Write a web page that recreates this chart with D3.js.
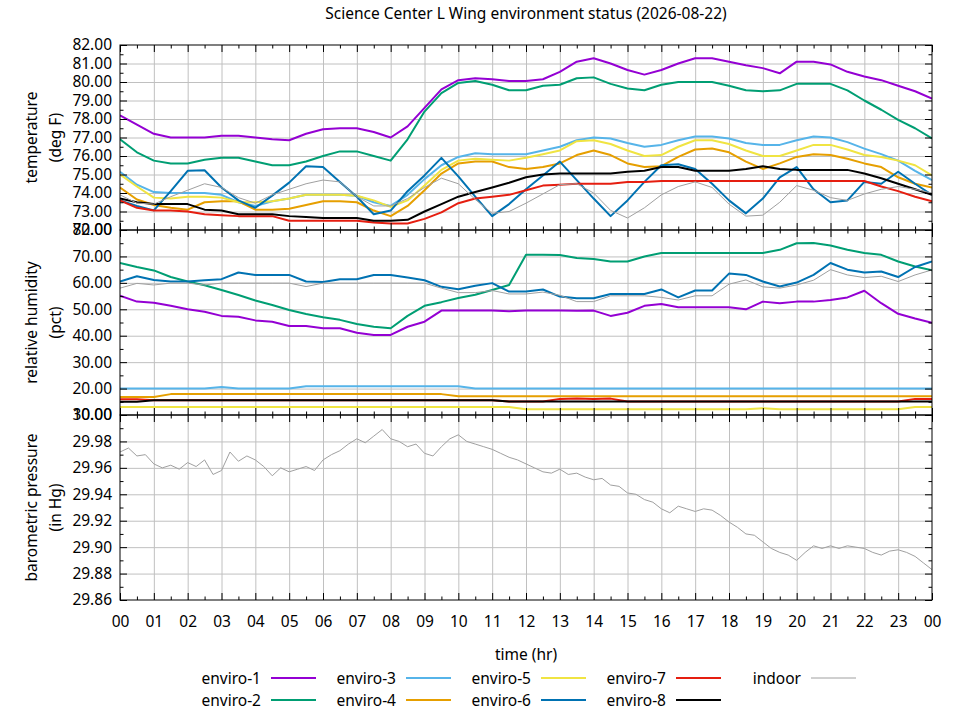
<!DOCTYPE html>
<html>
<head>
<meta charset="utf-8">
<script src="https://cdn.jsdelivr.net/npm/d3@7"></script>
<style>
  body { margin: 0; background: #fff; }
  text { font-family: "Noto Sans", sans-serif; fill: #000; }
</style>
</head>
<body>
<div id="chart"></div>
<script>
// Science Center L Wing environment status
const chartTitle = 'Science Center L Wing environment status (2026-08-22)';

const seriesNames = ['enviro-1', 'enviro-2', 'enviro-3', 'enviro-4', 'enviro-5', 'enviro-6', 'enviro-7', 'enviro-8', 'indoor'];
const seriesColors = ['#9400d3', '#009e73', '#56b4e9', '#e69f00', '#f0e442', '#0072b2', '#e51e10', '#000000', '#a0a0a0'];

const hourTicks = [0, 1, 2, 3, 4, 5, 6, 7, 8, 9, 10, 11, 12, 13, 14, 15, 16, 17, 18, 19, 20, 21, 22, 23, 24];
const hourLabels = ['00', '01', '02', '03', '04', '05', '06', '07', '08', '09', '10', '11', '12',
                    '13', '14', '15', '16', '17', '18', '19', '20', '21', '22', '23', '00'];

const tempTicks = [72, 73, 74, 75, 76, 77, 78, 79, 80, 81, 82];
const humTicks = [10, 20, 30, 40, 50, 60, 70, 80];
const presTicks = [29.86, 29.88, 29.90, 29.92, 29.94, 29.96, 29.98, 30.00];

// temperature (deg F), one reading every half hour from 00 to 24
const temp1 = [78.2, 77.7, 77.2, 77.0, 77.0, 77.0, 77.1, 77.1, 77.0, 76.9, 76.85, 77.2, 77.45, 77.5, 77.5, 77.3, 77.0, 77.6, 78.6, 79.6,
               80.1, 80.2, 80.15, 80.05, 80.05, 80.15, 80.55, 81.1, 81.28, 81.0, 80.65, 80.4, 80.65, 81.0, 81.28, 81.28, 81.1, 80.9, 80.75, 80.47,
               81.1, 81.1, 80.95, 80.55, 80.3, 80.1, 79.8, 79.5, 79.1];
const temp2 = [76.9, 76.2, 75.75, 75.6, 75.6, 75.8, 75.9, 75.9, 75.7, 75.5, 75.5, 75.7, 76.0, 76.25, 76.25, 76.0, 75.75, 76.9, 78.4, 79.4,
               79.95, 80.05, 79.85, 79.55, 79.55, 79.8, 79.85, 80.2, 80.25, 79.9, 79.65, 79.55, 79.85, 80.0, 80.0, 80.0, 79.8, 79.55, 79.5, 79.55,
               79.9, 79.9, 79.9, 79.55, 79.0, 78.5, 77.95, 77.5, 76.95];
const temp3 = [75.15, 74.45, 74.05, 74.0, 74.0, 74.0, 73.9, 73.5, 73.3, 73.55, 73.7, 73.9, 73.9, 73.9, 73.85, 73.5, 73.3, 73.9, 74.75, 75.5,
               75.95, 76.15, 76.1, 76.1, 76.1, 76.3, 76.5, 76.85, 77.0, 76.95, 76.7, 76.5, 76.6, 76.85, 77.05, 77.05, 76.95, 76.7, 76.6, 76.6,
               76.85, 77.05, 77.0, 76.75, 76.4, 76.1, 75.75, 75.2, 74.7];
const temp4 = [74.3, 73.65, 73.35, 73.2, 73.1, 73.5, 73.55, 73.55, 73.1, 73.1, 73.15, 73.35, 73.55, 73.55, 73.5, 73.05, 72.75, 73.3, 74.15, 75.05,
               75.6, 75.7, 75.7, 75.4, 75.3, 75.4, 75.6, 76.05, 76.3, 76.05, 75.6, 75.4, 75.45, 75.95, 76.35, 76.4, 76.2, 75.7, 75.3, 75.6,
               75.95, 76.1, 76.05, 75.85, 75.6, 75.4, 74.85, 74.5, 74.3];
const temp5 = [75.0, 74.35, 73.75, 73.7, 73.8, 73.8, 73.75, 73.5, 73.5, 73.55, 73.7, 73.9, 73.9, 73.9, 73.85, 73.6, 73.25, 73.6, 74.4, 75.25,
               75.75, 75.85, 75.8, 75.75, 75.9, 76.1, 76.3, 76.8, 76.85, 76.65, 76.3, 76.0, 76.05, 76.5, 76.85, 76.85, 76.65, 76.3, 76.0, 76.0,
               76.3, 76.6, 76.6, 76.35, 76.05, 75.95, 75.75, 75.5, 74.95];
const temp6 = [73.6, 73.3, 73.06, 74.1, 75.2, 75.23, 74.3, 73.6, 73.2, 73.86, 74.56, 75.45, 75.4, 74.6, 73.8, 72.85, 73.05, 74.1, 74.95, 75.9,
               74.9, 73.8, 72.75, 73.4, 74.2, 74.95, 75.7, 74.7, 73.7, 72.75, 73.6, 74.6, 75.5, 75.55, 75.3, 74.5, 73.6, 72.9, 73.7, 74.85,
               75.4, 74.2, 73.5, 73.6, 74.6, 74.5, 75.15, 74.5, 73.9];
const temp7 = [73.6, 73.2, 73.05, 73.05, 73.0, 72.85, 72.8, 72.75, 72.75, 72.75, 72.5, 72.5, 72.5, 72.5, 72.5, 72.4, 72.35, 72.35, 72.6, 72.95,
               73.45, 73.7, 73.8, 73.9, 74.15, 74.4, 74.45, 74.5, 74.5, 74.5, 74.6, 74.6, 74.65, 74.65, 74.65, 74.65, 74.65, 74.65, 74.65, 74.65,
               74.65, 74.65, 74.65, 74.65, 74.65, 74.35, 74.1, 73.8, 73.55];
const temp8 = [73.7, 73.5, 73.4, 73.4, 73.4, 73.1, 73.05, 72.85, 72.85, 72.85, 72.75, 72.7, 72.65, 72.65, 72.65, 72.5, 72.5, 72.55, 73.0, 73.4,
               73.8, 74.05, 74.3, 74.55, 74.85, 75.0, 75.05, 75.05, 75.05, 75.05, 75.15, 75.2, 75.4, 75.4, 75.2, 75.2, 75.2, 75.3, 75.45, 75.3,
               75.25, 75.25, 75.25, 75.25, 75.05, 74.8, 74.5, 74.2, 73.9];
const tempIndoor = [73.9, 73.45, 73.4, 73.8, 74.15, 74.5, 74.3, 73.75, 73.45, 73.9, 74.2, 74.5, 74.7, 74.6, 73.8, 73.3, 73.3, 73.7, 74.3, 74.8,
                    74.5, 73.65, 72.9, 73.0, 73.45, 73.95, 74.45, 74.5, 74.0, 73.06, 72.65, 73.2, 73.9, 74.35, 74.6, 74.3, 73.4, 72.75, 72.8, 73.5,
                    74.4, 74.15, 73.75, 73.6, 73.95, 74.2, 74.35, 74.2, 74.0];

// relative humidity (pct), one reading every half hour
const hum1 = [55.1, 52.9, 52.5, 51.3, 50.0, 49.1, 47.5, 47.2, 45.8, 45.3, 43.7, 43.7, 42.8, 42.8, 41.1, 40.3, 40.3, 43.4, 45.3, 49.5,
              49.5, 49.5, 49.5, 49.3, 49.5, 49.5, 49.5, 49.4, 49.5, 47.5, 48.7, 51.3, 52.0, 50.8, 50.8, 50.8, 50.8, 50.0, 52.9, 52.3,
              52.9, 52.9, 53.5, 54.5, 57.0, 52.3, 48.3, 46.5, 44.9];
const hum2 = [67.5, 66.0, 64.7, 62.2, 60.5, 59.1, 57.3, 55.4, 53.3, 51.6, 49.7, 48.2, 47.0, 46.0, 44.4, 43.4, 42.8, 47.5, 51.3, 52.7,
              54.3, 55.5, 57.3, 59.2, 70.6, 70.6, 70.5, 69.4, 69.0, 68.1, 68.1, 70.0, 71.3, 71.3, 71.3, 71.3, 71.3, 71.3, 71.3, 72.5,
              75.0, 75.1, 74.1, 72.5, 71.3, 70.6, 68.1, 66.2, 64.8];
const hum3 = [20.0, 20.0, 20.0, 20.0, 20.0, 20.0, 20.6, 20.0, 20.0, 20.0, 20.0, 20.9, 20.9, 20.9, 20.9, 20.9, 20.9, 20.9, 20.9, 20.9,
              20.9, 20.0, 20.0, 20.0, 20.0, 20.0, 20.0, 20.0, 20.0, 20.0, 20.0, 20.0, 20.0, 20.0, 20.0, 20.0, 20.0, 20.0, 20.0, 20.0,
              20.0, 20.0, 20.0, 20.0, 20.0, 20.0, 20.0, 20.0, 20.0];
const hum4 = [16.8, 16.8, 16.8, 17.9, 17.9, 17.9, 17.9, 17.9, 17.9, 17.9, 17.9, 17.9, 17.9, 17.9, 17.9, 17.9, 17.9, 17.9, 17.9, 17.9,
              17.1, 17.1, 17.1, 17.1, 17.1, 17.1, 17.1, 17.1, 17.1, 17.1, 17.1, 17.1, 17.1, 17.1, 17.1, 17.1, 17.1, 17.1, 17.1, 17.1,
              17.1, 17.1, 17.1, 17.1, 17.1, 17.1, 17.1, 17.1, 17.1];
const hum5 = [13.0, 13.0, 13.0, 13.0, 13.0, 13.0, 13.0, 13.0, 13.0, 13.0, 13.0, 13.0, 13.0, 13.0, 13.0, 13.0, 13.0, 13.0, 13.0, 13.0,
              13.0, 13.0, 13.0, 13.0, 12.2, 12.2, 12.2, 12.2, 12.2, 12.2, 12.2, 12.2, 12.2, 12.2, 12.2, 12.2, 12.2, 12.2, 12.6, 12.2,
              12.2, 12.2, 12.2, 12.2, 12.2, 12.2, 12.2, 13.0, 13.0];
const hum6 = [60.5, 62.5, 61.1, 60.5, 60.5, 61.0, 61.4, 63.9, 63.0, 63.0, 63.0, 60.5, 60.3, 61.4, 61.4, 63.0, 63.0, 62.0, 61.0, 58.5,
              57.6, 58.9, 59.9, 56.7, 56.7, 57.5, 54.8, 54.2, 54.2, 55.8, 55.8, 55.8, 57.5, 54.5, 57.1, 57.1, 63.5, 63.0, 60.5, 58.6,
              60.1, 63.0, 67.5, 65.0, 63.9, 64.3, 62.2, 66.0, 68.1];
const hum7 = [16.0, 16.0, 15.6, 15.6, 15.6, 15.6, 15.6, 15.6, 15.6, 15.6, 15.6, 15.6, 15.6, 15.6, 15.6, 15.6, 15.6, 15.6, 15.6, 15.6,
              15.6, 15.6, 15.6, 15.1, 15.1, 15.1, 16.1, 16.2, 16.1, 16.2, 15.1, 15.1, 15.1, 15.1, 15.1, 15.1, 15.1, 15.1, 15.1, 15.1,
              15.1, 15.1, 15.1, 15.1, 15.1, 15.1, 15.1, 16.1, 16.1];
const hum8 = [15.0, 15.0, 15.6, 15.6, 15.6, 15.6, 15.6, 15.6, 15.6, 15.6, 15.6, 15.6, 15.6, 15.6, 15.6, 15.6, 15.6, 15.6, 15.6, 15.6,
              15.6, 15.6, 15.6, 15.1, 15.1, 15.1, 15.1, 15.1, 15.1, 15.1, 15.1, 15.1, 15.1, 15.1, 15.1, 15.1, 15.1, 15.1, 15.1, 15.1,
              15.1, 15.1, 15.1, 15.1, 15.1, 15.1, 15.1, 15.1, 15.1];
const humIndoor = [58.0, 59.8, 59.2, 59.9, 59.9, 59.2, 59.9, 59.9, 59.9, 59.9, 59.9, 58.6, 59.9, 59.9, 59.9, 59.9, 59.9, 59.9, 59.9, 58.0,
                   56.3, 56.3, 57.1, 55.8, 55.8, 56.5, 55.3, 52.9, 52.9, 55.1, 55.1, 55.1, 54.5, 53.5, 55.1, 55.1, 59.5, 61.1, 58.5, 58.0,
                   59.2, 61.0, 65.0, 63.0, 62.0, 62.5, 60.5, 63.0, 64.9];

// barometric pressure (in Hg), indoor only, one reading every quarter hour
const presIndoor = [29.972, 29.975, 29.969, 29.970, 29.963, 29.960, 29.962, 29.959, 29.964, 29.961, 29.966, 29.955, 29.958,
                    29.972, 29.965, 29.969, 29.966, 29.961, 29.954, 29.960, 29.957, 29.959, 29.961, 29.958, 29.966, 29.970,
                    29.973, 29.978, 29.982, 29.979, 29.984, 29.989, 29.982, 29.980, 29.976, 29.978, 29.971, 29.969, 29.976,
                    29.982, 29.985, 29.980, 29.978, 29.976, 29.974, 29.971, 29.968, 29.966, 29.963, 29.960, 29.957, 29.956,
                    29.959, 29.955, 29.956, 29.953, 29.951, 29.952, 29.947, 29.946, 29.941, 29.940, 29.936, 29.934, 29.929,
                    29.926, 29.931, 29.929, 29.927, 29.929, 29.928, 29.924, 29.919, 29.915, 29.910, 29.909, 29.904, 29.899,
                    29.896, 29.894, 29.890, 29.896, 29.901, 29.899, 29.901, 29.899, 29.901, 29.900, 29.899, 29.896, 29.894,
                    29.897, 29.898, 29.896, 29.893, 29.888, 29.883];

var svgWidth = 960;
var svgHeight = 720;
var plotLeft = 120;
var plotWidth = 812;
var panelHeight = 185;

var svg = d3.select('#chart')
    .append('svg')
    .attr('width', svgWidth)
    .attr('height', svgHeight);

var x = d3.scaleLinear().domain([0, 24]).range([0, plotWidth]);

const panels = [
    { top: 45,  domain: [72, 82], ticks: tempTicks, step: 0.5, label: ['temperature', '(deg F)'],
      series: [temp1, temp2, temp3, temp4, temp5, temp6, temp7, temp8, tempIndoor] },
    { top: 230, domain: [10, 80], ticks: humTicks, step: 0.5, label: ['relative humidity', '(pct)'],
      series: [hum1, hum2, hum3, hum4, hum5, hum6, hum7, hum8, humIndoor] },
    { top: 415, domain: [29.86, 30.00], ticks: presTicks, step: 0.25, label: ['barometric pressure', '(in Hg)'],
      series: [null, null, null, null, null, null, null, null, presIndoor] }
];

var halfHours = d3.pairs(hourTicks).map(p => (p[0] + p[1]) / 2);

panels.forEach((p, pi) => {
    var y = d3.scaleLinear().domain(p.domain).range([panelHeight, 0]);
    var minorY = d3.pairs(p.ticks).map(t => (t[0] + t[1]) / 2);
    var isLast = pi === panels.length - 1;

    var g = svg.append('g')
        .attr('transform', `translate(${plotLeft}, ${p.top})`);

    g.append('clipPath').attr('id', 'clip' + pi)
        .append('rect').attr('width', plotWidth).attr('height', panelHeight);

    // grid
    g.append('g')
        .call(d3.axisBottom(x).tickValues(hourTicks.slice(1, -1)).tickSize(panelHeight).tickFormat(''))
        .call(a => a.select('.domain').remove())
        .selectAll('line').attr('stroke', '#c0c0c0');
    g.append('g')
        .call(d3.axisLeft(y).tickValues(p.ticks.slice(1, -1)).tickSize(-plotWidth).tickFormat(''))
        .call(a => a.select('.domain').remove())
        .selectAll('line').attr('stroke', '#c0c0c0');

    // series
    var lineGroup = g.append('g').attr('clip-path', `url(#clip${pi})`);
    p.series.forEach((vals, si) => {
        if (!vals) return;
        var line = d3.line()
            .x((d, i) => x(i * p.step))
            .y(d => y(d));
        lineGroup.append('path')
            .attr('fill', 'none')
            .attr('stroke', seriesColors[si])
            .attr('stroke-width', si === 8 ? 1 : 2)
            .attr('stroke-linejoin', 'round')
            .attr('d', line(vals));
    });

    // frame
    g.append('rect')
        .attr('width', plotWidth).attr('height', panelHeight)
        .attr('fill', 'none').attr('stroke', '#000').attr('stroke-width', 1);

    // ticks
    var tickStyle = a => {
        a.select('.domain').remove();
        a.selectAll('line').attr('stroke', '#000');
        a.selectAll('text').attr('font-size', '15.5px').attr('fill', '#000');
    };
    g.append('g')
        .call(d3.axisLeft(y).tickValues(p.ticks).tickSize(-7).tickPadding(8).tickFormat(d3.format('.2f')))
        .call(tickStyle);
    g.append('g')
        .call(d3.axisLeft(y).tickValues(minorY).tickSize(-3.5).tickFormat(''))
        .call(tickStyle);
    g.append('g').attr('transform', `translate(${plotWidth}, 0)`)
        .call(d3.axisRight(y).tickValues(p.ticks).tickSize(-7).tickFormat(''))
        .call(tickStyle);
    g.append('g').attr('transform', `translate(${plotWidth}, 0)`)
        .call(d3.axisRight(y).tickValues(minorY).tickSize(-3.5).tickFormat(''))
        .call(tickStyle);
    g.append('g')
        .call(d3.axisTop(x).tickValues(hourTicks).tickSize(-7).tickFormat(''))
        .call(tickStyle);
    g.append('g')
        .call(d3.axisTop(x).tickValues(halfHours).tickSize(-3.5).tickFormat(''))
        .call(tickStyle);
    g.append('g').attr('transform', `translate(0, ${panelHeight})`)
        .call(d3.axisBottom(x).tickValues(hourTicks).tickSize(-7).tickPadding(16)
            .tickFormat((d, i) => isLast ? hourLabels[i] : ''))
        .call(tickStyle);
    g.append('g').attr('transform', `translate(0, ${panelHeight})`)
        .call(d3.axisBottom(x).tickValues(halfHours).tickSize(-3.5).tickFormat(''))
        .call(tickStyle);

    // y label, two lines
    var cy = p.top + panelHeight / 2;
    p.label.forEach((t, li) => {
        svg.append('text')
            .attr('transform', `translate(${37 + li * 24}, ${cy}) rotate(-90)`)
            .attr('text-anchor', 'middle')
            .attr('font-size', '15.5px')
            .text(t);
    });
});

// title and x label
svg.append('text')
    .attr('x', plotLeft + plotWidth / 2).attr('y', 19)
    .attr('text-anchor', 'middle').attr('font-size', '15.5px')
    .text(chartTitle);

svg.append('text')
    .attr('x', plotLeft + plotWidth / 2).attr('y', 660)
    .attr('text-anchor', 'middle').attr('font-size', '15.5px')
    .text('time (hr)');

// legend, filled column by column
seriesNames.forEach((name, i) => {
    var col = Math.floor(i / 2);
    var row = i % 2;
    var textEnd = 261 + col * 135;
    var ly = 678 + row * 22;
    svg.append('text')
        .attr('x', textEnd).attr('y', ly + 5.5)
        .attr('text-anchor', 'end').attr('font-size', '15.5px')
        .text(name);
    svg.append('line')
        .attr('x1', textEnd + 10).attr('x2', textEnd + 55)
        .attr('y1', ly).attr('y2', ly)
        .attr('stroke', seriesColors[i])
        .attr('stroke-width', i === 8 ? 1 : 2);
});
</script>
</body>
</html>
